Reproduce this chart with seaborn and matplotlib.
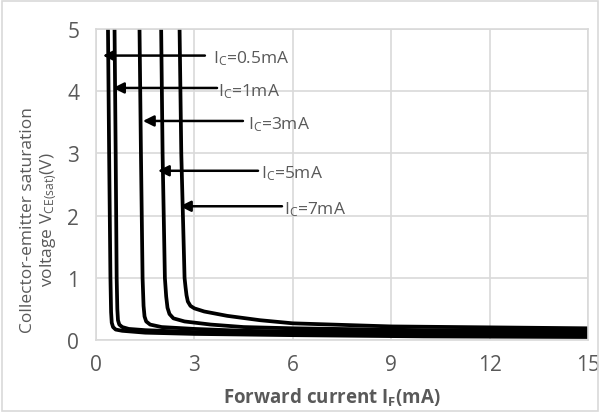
import matplotlib
matplotlib.use("Agg")
import matplotlib.pyplot as plt
import seaborn as sns
import pandas as pd
from matplotlib.patches import Rectangle

# ---- data ----
series_names = ["0.5mA", "1mA", "3mA", "5mA", "7mA"]
x_05 = [0.36, 0.40, 0.44, 0.46, 0.48, 0.52, 0.60, 0.8, 1.5, 3, 6, 10, 15]
y_05 = [5.3, 3.0, 1.0, 0.45, 0.28, 0.21, 0.17, 0.15, 0.12, 0.10, 0.08, 0.06, 0.05]
x_1 = [0.56, 0.60, 0.63, 0.65, 0.67, 0.71, 0.80, 1.0, 1.5, 3, 6, 10, 15]
y_1 = [5.3, 3.0, 1.0, 0.50, 0.32, 0.25, 0.21, 0.18, 0.16, 0.13, 0.11, 0.09, 0.08]
x_3 = [1.32, 1.37, 1.42, 1.45, 1.48, 1.53, 1.65, 2.0, 3, 4.5, 6, 10, 15]
y_3 = [5.3, 3.0, 1.0, 0.55, 0.38, 0.30, 0.25, 0.21, 0.18, 0.15, 0.14, 0.12, 0.11]
x_5 = [1.98, 2.03, 2.10, 2.14, 2.18, 2.24, 2.36, 2.7, 3.5, 4.5, 6, 10, 15]
y_5 = [5.3, 3.0, 1.0, 0.70, 0.52, 0.42, 0.35, 0.30, 0.25, 0.21, 0.19, 0.16, 0.15]
x_7 = [2.54, 2.60, 2.70, 2.73, 2.76, 2.80, 2.88, 3.0, 3.3, 4.0, 5.0, 6, 9, 15]
y_7 = [5.3, 3.0, 1.0, 0.85, 0.72, 0.62, 0.55, 0.51, 0.46, 0.39, 0.32, 0.27, 0.22, 0.19]

ann_labels = [r"I$_\mathrm{C}$=0.5mA", r"I$_\mathrm{C}$=1mA", r"I$_\mathrm{C}$=3mA",
              r"I$_\mathrm{C}$=5mA", r"I$_\mathrm{C}$=7mA"]
ann_y = [4.57, 4.05, 3.52, 2.72, 2.15]
ann_tip_x = [0.21, 0.52, 1.43, 1.89, 2.56]
ann_tail_x = [3.32, 3.69, 4.48, 4.94, 5.67]
ann_text_x = [3.57, 3.72, 4.63, 5.03, 5.73]

x_ticks = [0, 3, 6, 9, 12, 15]
y_ticks = [0, 1, 2, 3, 4, 5]

# ---- build long-form table ----
rows = []
for name, xs, ys in zip(series_names, [x_05, x_1, x_3, x_5, x_7],
                        [y_05, y_1, y_3, y_5, y_7]):
    for i, (xv, yv) in enumerate(zip(xs, ys)):
        rows.append({"series": name, "order": i, "IF": xv, "VCE": yv})
df = pd.DataFrame(rows)

sns.set_theme(style="white")
plt.rcParams["font.family"] = ["Open Sans", "DejaVu Sans"]
plt.rcParams["mathtext.fontset"] = "custom"
plt.rcParams["mathtext.rm"] = "Open Sans"
plt.rcParams["mathtext.bf"] = "Open Sans:bold"
plt.rcParams["mathtext.it"] = "Open Sans:italic"

txt = "#595959"
grid = "#d9d9d9"

fig = plt.figure(figsize=(6, 4.14), dpi=100)
ax = fig.add_axes([0.16, 0.176, 0.82, 0.752])

sns.lineplot(data=df, x="IF", y="VCE", hue="series", units="series",
             estimator=None, sort=False, palette=["black"] * 5,
             linewidth=2.7, legend=False, ax=ax)

ax.set_xlim(0, 15)
ax.set_ylim(0, 5)
ax.set_xticks(x_ticks)
ax.set_yticks(y_ticks)
ax.grid(True, color=grid, linewidth=1.2)
ax.set_axisbelow(True)
for s in ax.spines.values():
    s.set_color(grid)
    s.set_linewidth(1.2)
ax.tick_params(axis="both", length=0, labelsize=15, colors=txt)
ax.tick_params(axis="x", pad=10)
ax.tick_params(axis="y", pad=12)

ax.set_xlabel(r"Forward current I$_\mathbf{F}$(mA)", fontsize=13.5,
              fontweight="bold", color=txt)
ax.xaxis.set_label_coords(0.48, -0.145)
ax.set_ylabel("Collector-emitter saturation\nvoltage V$_\\mathrm{CE(sat)}$(V)",
              fontsize=12.5, color=txt, linespacing=1.15)
ax.yaxis.set_label_coords(-0.075, 0.39)

for lab, yv, tip, tail, tx in zip(ann_labels, ann_y, ann_tip_x, ann_tail_x, ann_text_x):
    ax.annotate("", xy=(tip, yv), xytext=(tail, yv),
                arrowprops=dict(arrowstyle="-|>", color="black", lw=1.8,
                                mutation_scale=16, shrinkA=0, shrinkB=0))
    ax.text(tx, yv - 0.11, lab, fontsize=12.5, color=txt, va="baseline", ha="left")

fig.patches.append(Rectangle((0.003, 0.004), 0.994, 0.992, transform=fig.transFigure,
                             fill=False, edgecolor=grid, linewidth=1.2))

fig.savefig("out.png", dpi=100)
